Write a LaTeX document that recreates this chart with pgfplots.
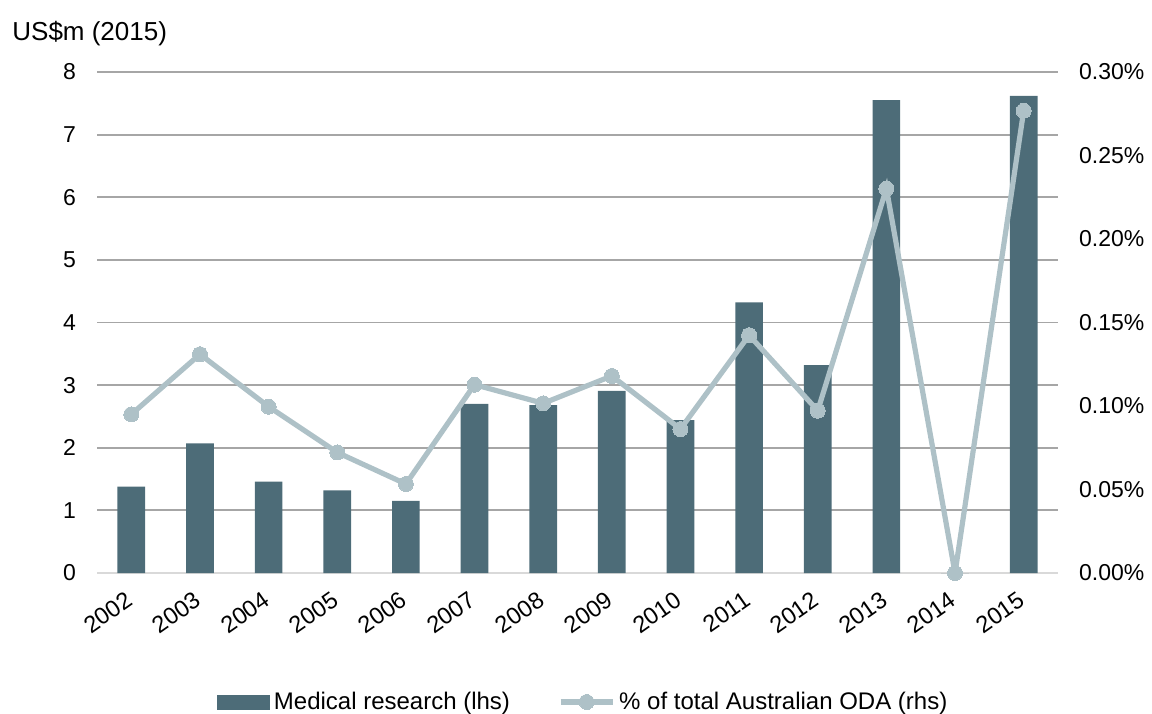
\documentclass[border=0pt]{standalone}
\usepackage{fontspec}
\setmainfont{Liberation Sans}
\usepackage{pgfplots}
\usepackage{pgfplotstable}
\pgfplotsset{compat=1.18}

\definecolor{barcol}{RGB}{77,108,120}
\definecolor{linecol}{RGB}{174,193,199}
\definecolor{gridcol}{RGB}{166,166,166}
\definecolor{basecol}{RGB}{217,217,217}

% medical research spending (US$m, 2015 prices) and its share of total ODA (%)
\pgfplotstableread{
idx year research share
0  2002 1.38 0.0950
1  2003 2.07 0.1310
2  2004 1.46 0.0996
3  2005 1.32 0.0722
4  2006 1.15 0.0533
5  2007 2.70 0.1128
6  2008 2.68 0.1016
7  2009 2.91 0.1180
8  2010 2.44 0.0862
9  2011 4.32 0.1424
10 2012 3.32 0.0972
11 2013 7.55 0.2302
12 2014 0.00 0.0000
13 2015 7.62 0.2768
}\datatable

\pgfplotsset{
  common/.style={
    at={(48.5pt,70pt)}, anchor=south west,
    scale only axis, width=480.5pt, height=250.5pt,
    xmin=-0.5, xmax=13.5,
    major tick length=0,
    /pgf/number format/assume math mode=true,
    ticklabel style={font=\fontsize{11.5}{13}\selectfont},
  },
  lineleg/.style={
    legend image code/.code={\draw[mark repeat=2, mark phase=2, ##1] plot coordinates {(0pt,0pt) (13pt,0pt) (26pt,0pt)};},
  },
}

\begin{document}
\begin{tikzpicture}
\path[use as bounding box] (0,0) rectangle (576pt,356.5pt);
\node[anchor=base west, inner sep=0, font=\fontsize{13}{15}\selectfont] at (6pt,336.2pt) {US\$m (2015)};

\begin{axis}[
  common,
  ymin=0, ymax=8,
  ytick={0,1,2,3,4,5,6,7,8},
  xtick={0,...,13},
  xticklabels={2002,2003,2004,2005,2006,2007,2008,2009,2010,2011,2012,2013,2014,2015},
  xticklabel style={xshift=-2.5pt, yshift=-4pt, rotate=35, anchor=north east,
    font=\fontsize{11.8}{13}\selectfont},
  yticklabel style={xshift=-7pt},
  axis x line*=bottom, axis y line*=left,
  axis line style={-},
  x axis line style={draw=basecol, line width=1pt},
  y axis line style={draw=none},
  ymajorgrids,
  major grid style={draw=gridcol, line width=0.9pt},
]
\addplot[ybar, bar width=13.85pt, fill=barcol, draw=none] table[x=idx, y=research] {\datatable};
\end{axis}

\begin{axis}[
  common,
  ymin=0, ymax=0.30,
  axis x line=none,
  axis y line*=right,
  axis line style={-},
  y axis line style={draw=none},
  ytick={0,0.05,0.10,0.15,0.20,0.25,0.30},
  yticklabel={\pgfmathprintnumber[fixed,fixed zerofill,precision=2]{\tick}\%},
  yticklabel style={xshift=7pt},
  legend columns=2,
  legend style={
    at={(0.507,-0.2575)}, anchor=center,
    draw=none, fill=none,
    font=\fontsize{12}{14}\selectfont,
    /tikz/every even column/.append style={column sep=22pt},
  },
]
\addlegendimage{legend image code/.code={\fill[barcol] (0pt,-3.5pt) rectangle (26pt,3.5pt);}}
\addlegendentry{Medical research (lhs)}
\addplot[
  color=linecol, line width=2.6pt,
  mark=*, mark size=3.75pt,
  mark options={fill=linecol, draw=linecol, line width=0pt},
  lineleg,
] table[x=idx, y=share] {\datatable};
\addlegendentry{\% of total Australian ODA (rhs)}
\end{axis}
\end{tikzpicture}
\end{document}
